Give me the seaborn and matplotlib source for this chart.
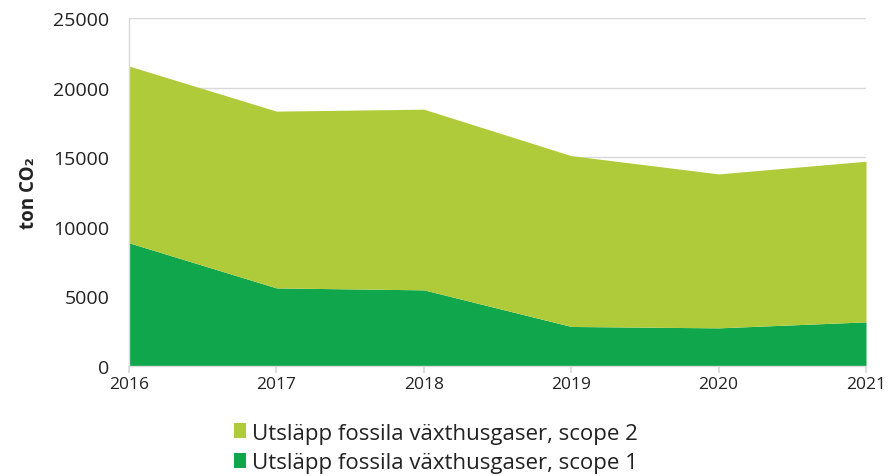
import matplotlib
matplotlib.use("Agg")
import matplotlib.pyplot as plt
import seaborn as sns
import numpy as np
from matplotlib.patches import Patch

years = [2016, 2017, 2018, 2019, 2020, 2021]
scope1 = [8850, 5610, 5470, 2840, 2740, 3170]
scope2 = [12700, 12700, 12980, 12270, 11060, 11540]
series_names = ["Utsläpp fossila växthusgaser, scope 1",
                "Utsläpp fossila växthusgaser, scope 2"]
y_ticks = [0, 5000, 10000, 15000, 20000, 25000]
y_label = "ton CO₂"

c1 = "#10A64C"
c2 = "#B0CB3A"

sns.set_theme(style="white")
plt.rcParams['font.family'] = ['Open Sans', 'DejaVu Sans']

fig = plt.figure(figsize=(8.9, 4.77), dpi=100)
ax = fig.add_axes([129/890, 1 - 367/477, (866-129)/890, (367-19)/477])

ax.stackplot(years, scope1, scope2, colors=[c1, c2], linewidth=0)
ax.set_xlim(years[0], years[-1])
ax.set_ylim(0, 25000)
ax.set_yticks(y_ticks)
ax.set_xticks(years)
ax.yaxis.grid(True, color="#d9d9d9", linewidth=1)
ax.set_axisbelow(True)
sns.despine(ax=ax, top=True, right=True)
for s in ["left", "bottom"]:
    ax.spines[s].set_color("#d9d9d9")
    ax.spines[s].set_linewidth(1)
ax.tick_params(axis="x", bottom=True, length=5, color="#d9d9d9", labelsize=12.5, labelcolor="#222222", pad=2)
ax.tick_params(axis="y", left=False, labelsize=14, labelcolor="#222222", pad=8)
ax.set_ylabel(y_label, fontsize=13.5, fontweight="bold", color="#222222", labelpad=10)

handles = [Patch(facecolor=c2, edgecolor="none"), Patch(facecolor=c1, edgecolor="none")]
fig.legend(handles, [series_names[1], series_names[0]],
           loc="center left", bbox_to_anchor=(214/890, 1 - 449/477),
           frameon=False, fontsize=16, handlelength=0.55, handleheight=0.65,
           handletextpad=0.25, labelspacing=0.4, labelcolor="#222222")

fig.savefig("out.png", dpi=100)
